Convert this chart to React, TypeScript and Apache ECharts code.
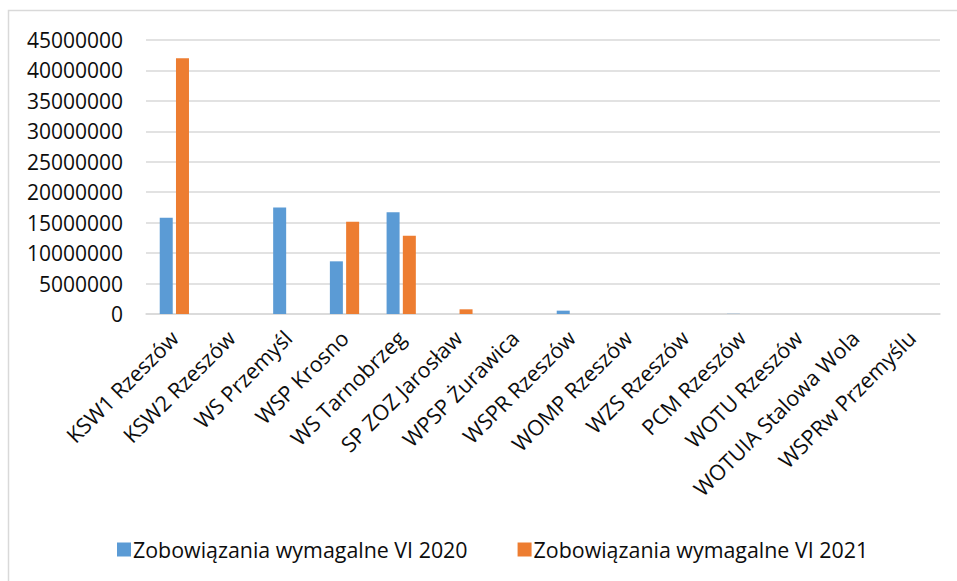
import React, { useEffect, useRef } from "react";
import * as echarts from "echarts";

const categories = [
  "KSW1 Rzeszów",
  "KSW2 Rzeszów",
  "WS Przemyśl",
  "WSP Krosno",
  "WS Tarnobrzeg",
  "SP ZOZ Jarosław",
  "WPSP Żurawica",
  "WSPR Rzeszów",
  "WOMP Rzeszów",
  "WZS Rzeszów",
  "PCM Rzeszów",
  "WOTU Rzeszów",
  "WOTUIA Stalowa Wola",
  "WSPRw Przemyślu",
];

const values2020 = [15800000, 0, 17500000, 8650000, 16700000, 0, 0, 550000, 0, 0, 30000, 0, 0, 0];
const values2021 = [42000000, 0, 0, 15150000, 12850000, 770000, 0, 0, 0, 0, 0, 0, 0, 0];

const seriesNames = ["Zobowiązania wymagalne VI 2020", "Zobowiązania wymagalne VI 2021"];
const yTicks = { min: 0, max: 45000000, interval: 5000000 };

const FONT = "'Open Sans', 'Noto Sans', sans-serif";

export default function App() {
  const ref = useRef<HTMLDivElement>(null);
  useEffect(() => {
    if (!ref.current) return;
    const chart = echarts.init(ref.current, undefined, { renderer: "svg" });
    chart.setOption({
      animation: false,
      backgroundColor: "#ffffff",
      textStyle: { fontFamily: FONT },
      graphic: [
        {
          type: "rect",
          z: -10,
          shape: { x: 8.5, y: 10.5, width: 1000, height: 700 },
          style: { fill: "none", stroke: "#D9D9D9", lineWidth: 1.5 },
        },
      ],
      grid: { left: 146, right: 17, top: 40, bottom: 267, containLabel: false },
      legend: {
        left: 117,
        top: 539,
        padding: 0,
        itemWidth: 14,
        itemHeight: 14,
        itemGap: 50,
        icon: "rect",
        data: seriesNames,
        textStyle: { fontSize: 21.4, color: "#0d0d0d", fontFamily: FONT, padding: [0, 0, 0, -3] },
      },
      xAxis: {
        type: "category",
        data: categories,
        axisTick: { show: false },
        axisLine: { lineStyle: { color: "#D9D9D9", width: 1.5 } },
        axisLabel: {
          rotate: 45,
          interval: 0,
          margin: 20,
          fontSize: 21.5,
          color: "#0d0d0d",
          fontFamily: FONT,
        },
      },
      yAxis: {
        type: "value",
        min: yTicks.min,
        max: yTicks.max,
        interval: yTicks.interval,
        axisLine: { show: false },
        axisTick: { show: false },
        splitLine: { lineStyle: { color: "#D9D9D9", width: 1.5 } },
        axisLabel: {
          fontSize: 21,
          color: "#0d0d0d",
          margin: 23,
          fontFamily: FONT,
          formatter: (v: number) => String(v),
        },
      },
      series: [
        {
          name: seriesNames[0],
          type: "bar",
          data: values2020,
          barWidth: 13,
          barGap: "25%",
          itemStyle: { color: "#5B9BD5" },
        },
        {
          name: seriesNames[1],
          type: "bar",
          data: values2021,
          barWidth: 13,
          itemStyle: { color: "#ED7D31" },
        },
      ],
    });
    return () => chart.dispose();
  }, []);
  return (
    <div
      ref={ref}
      style={{ position: "fixed", left: 0, top: 0, width: 957, height: 581 }}
    />
  );
}
